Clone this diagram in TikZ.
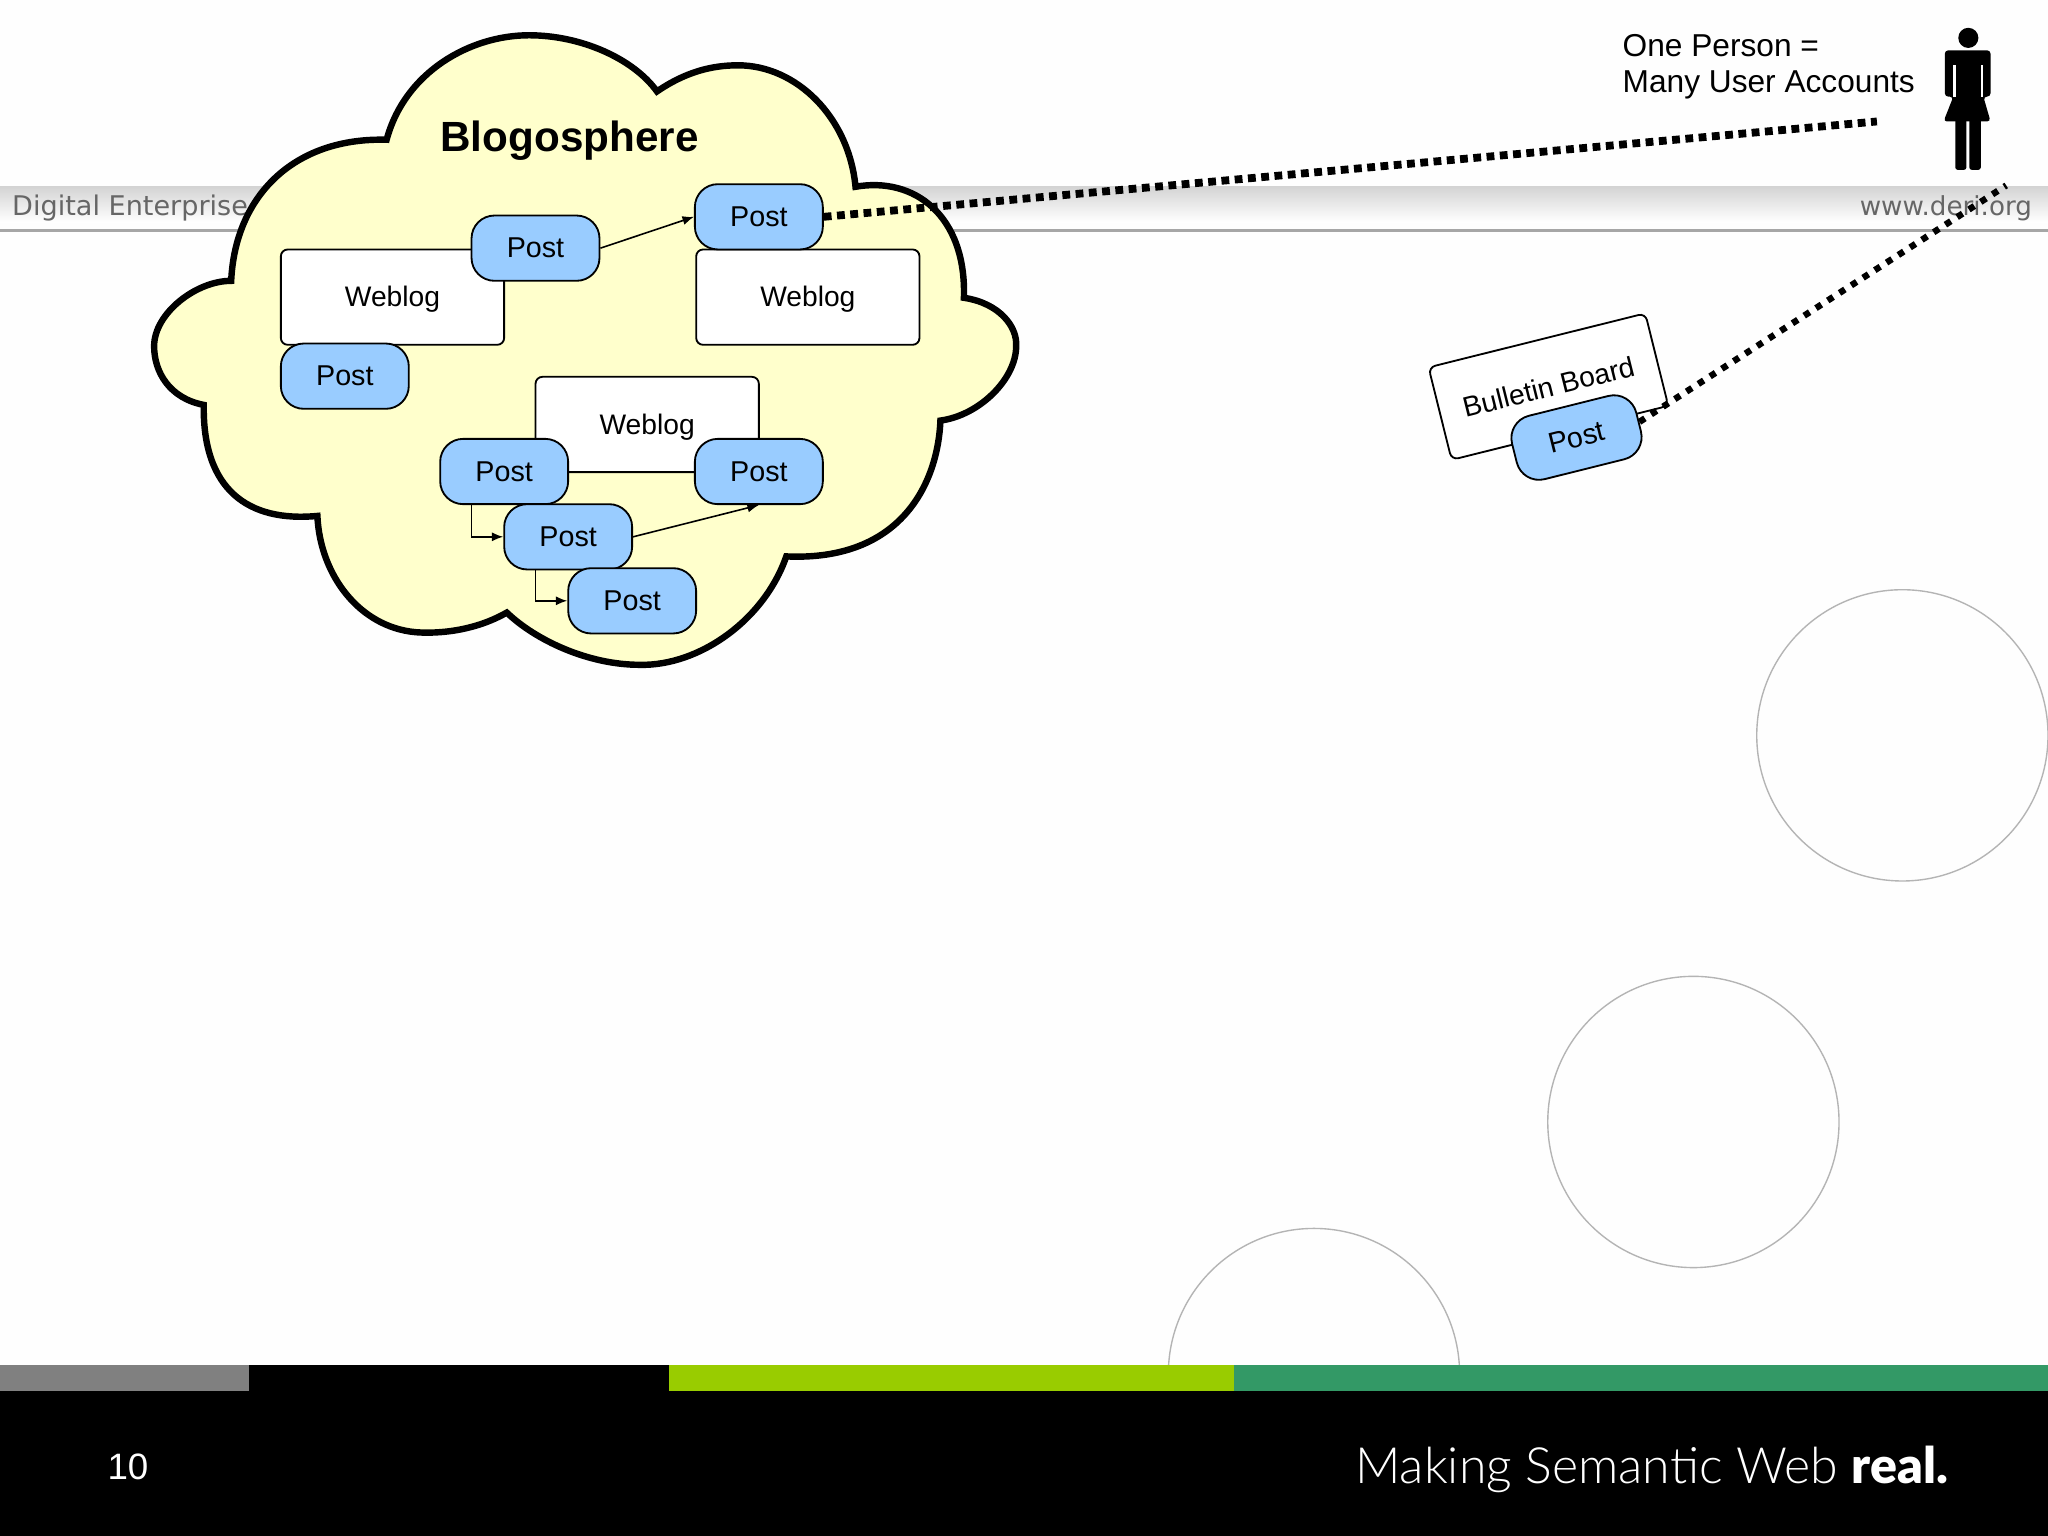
\documentclass[tikz,border=0pt]{standalone}
\usepackage{fontspec}
\setmainfont{Liberation Sans}
\newfontfamily\bandfont{DejaVu Sans}
\newfontfamily\sloganfont{Lato Light}
\newfontfamily\sloganbold{Lato Black}
\usetikzlibrary{arrows.meta,calc,positioning}
\definecolor{CloudFill}{HTML}{FFFFCC}
\definecolor{PostBlue}{HTML}{99CCFF}
\definecolor{BandGray}{HTML}{666666}
\definecolor{BandTop}{HTML}{D4D4D4}
\definecolor{BandLine}{HTML}{A6A6A6}
\definecolor{Ring}{HTML}{B4B4B4}
\definecolor{StripeGray}{HTML}{808080}
\definecolor{Lime}{HTML}{99CC00}
\definecolor{SeaGreen}{HTML}{339966}
\tikzset{weblog/.style={rounded corners=3pt,draw=black,fill=white,line width=.8pt,minimum width=3.42cm,minimum height=1.46cm,inner sep=0pt,text depth=.5pt,font=\fontsize{12.3}{15}\selectfont},post/.style={rounded corners=10pt,draw=black,fill=PostBlue,line width=.8pt,minimum width=1.96cm,minimum height=1cm,inner sep=0pt,font=\fontsize{12.5}{15}\selectfont},flow/.style={-{Latex[length=5pt,width=4pt]},line width=.7pt},account/.style={line width=3.4pt,dash pattern=on 3.4pt off 2.4pt},ring/.style={draw=Ring,line width=.6pt}}
\begin{document}
\begin{tikzpicture}[x=.02cm,y=-.02cm]
        \useasboundingbox(0,0)rectangle(1568,1176);
        \fill[white!99.5!black](0,0)rectangle(1568,1176);
        % rings and footer
        \foreach \cx/\cy in {1456.5/563,1296.5/859,1006/1052}
          \draw[ring](\cx,\cy)circle[radius=111.5];
        \fill[StripeGray](0,1045)rectangle(191,1065);
        \fill[black](191,1045)rectangle(512,1065);
        \fill[Lime](512,1045)rectangle(945,1065);
        \fill[SeaGreen](945,1045)rectangle(1568,1065);
        \fill[black](0,1065)rectangle(1568,1176);
        \node[white,anchor=base,font=\fontsize{16}{18}\selectfont] (pagenum) at (98,1133){10};
        \node[white,anchor=base east,inner sep=0pt,font=\fontsize{21.8}{26}\selectfont] (slogan) at (1492,1136){\sloganfont Making Semantic Web \sloganbold real.};
        % header band
        \shade[top color=BandTop,bottom color=white](0,143)rectangle(1568,170);
        \fill[BandLine](0,175.5)rectangle(1568,178);
        \node[BandGray,anchor=base west,inner sep=0pt,font=\bandfont\fontsize{11.8}{14}\selectfont] (institute) at (9,165){Digital Enterprise};
        \node[BandGray,anchor=base east,inner sep=0pt,font=\bandfont\fontsize{11.4}{14}\selectfont] (site) at (1556,165){www.deri.org};
        % cloud
        \draw[line width=2.8pt,fill=CloudFill](296,107)..controls(310,55)and(360,27)..(405,27)
          ..controls(445,27)and(485,45)..(503,70)..controls(525,55)and(545,50)..(565,50)
          ..controls(610,50)and(650,90)..(655,143)..controls(700,135)and(740,165)..(738,228)
          ..controls(765,232)and(779,250)..(778,265)..controls(778,290)and(750,318)..(720,322)
          ..controls(718,370)and(690,430)..(602,426)..controls(585,475)and(535,510)..(490,509)
          ..controls(450,509)and(410,490)..(388,469)..controls(360,485)and(330,485)..(318,484)
          ..controls(275,480)and(245,440)..(243,395)..controls(190,400)and(155,375)..(156,310)
          ..controls(130,305)and(118,285)..(118,265)..controls(118,240)and(150,215)..(177,215)
          ..controls(180,150)and(225,105)..(296,107)--cycle;
        \node[font=\bfseries\fontsize{18.4}{22}\selectfont] (sphere) at (436,108){Blogosphere};
        \node[weblog] (weblogA) at (300.5,227.5){Weblog};
        \node[weblog] (weblogB) at (618.5,227.5){Weblog};
        \node[weblog] (weblogC) at (495.5,325){Weblog};
        \node[post] (postA) at (410,190){Post};
        \node[post] (postB) at (581,166){Post};
        \node[post] (postC) at (264,288){Post};
        \node[post] (postD) at (386,361){Post};
        \node[post] (postE) at (581,361){Post};
        \node[post] (postF) at (435,411){Post};
        \node[post] (postG) at (484,460){Post};
        \draw[flow](postA.east)--(postB.west);
        \draw[flow]($(postD.south)+(-25,0)$)|-(postF.west);
        \draw[flow]($(postF.south)+(-25,0)$)|-(postG.west);
        \draw[flow](postF.east)--(postE.south);
        % bulletin board
        \node[weblog,rotate=14,text depth=0pt] (board) at (1185.5,296){Bulletin Board};
        \node[post,rotate=14] (postH) at (1207,335){Post};
        % person
        \node[anchor=west,align=left,inner sep=0pt,font=\fontsize{13.8}{15.6}\selectfont] (note) at (1242,51){One Person =\\Many User Accounts};
        \fill (1507,29)circle[radius=7.7];
        \fill[rounded corners=1.5pt](1489,74)--(1489,38.5)--(1524,38.5)--(1524,74)--(1518.5,74)--(1524,93)--(1488,93)--(1495.5,74)--cycle;
        \fill[white](1495.5,50)rectangle(1497.3,74);
        \fill[white](1516.7,50)rectangle(1518.5,74);
        \fill[rounded corners=1pt](1497,90)rectangle(1505.5,130);
        \fill[rounded corners=1pt](1507.8,90)rectangle(1516.5,130);
        % accounts
        \coordinate (personA) at (1437,93);
        \coordinate (personB) at (1536,142);
        \draw[account](postB.east)--(personA);
        \draw[account,line width=2.8pt,dash pattern=on 2.8pt off 3.3pt](postH.east)--(personB);
      \end{tikzpicture}
\end{document}
